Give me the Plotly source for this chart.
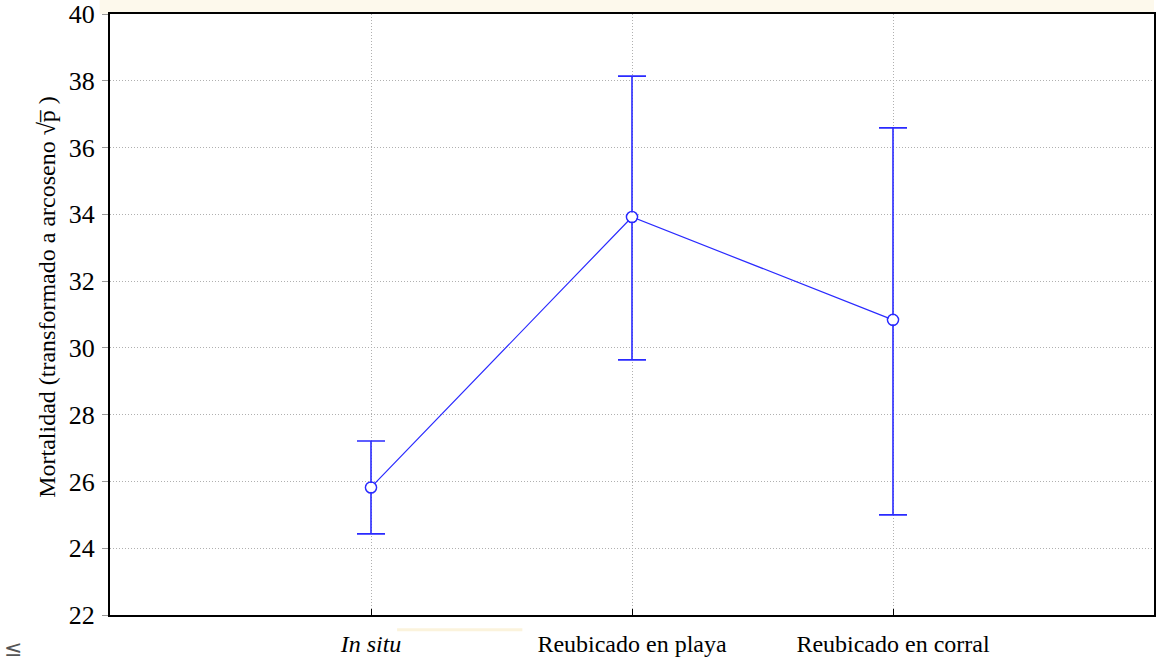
import plotly.graph_objects as go

# Group means and error-bar extents (arcsine-transformed mortality)
categories = ["<i>In situ</i>", "Reubicado en playa", "Reubicado en corral"]
means = [25.82, 33.92, 30.84]
err_plus = [1.39, 4.22, 5.75]
err_minus = [1.39, 4.28, 5.84]
y_ticks = [22, 24, 26, 28, 30, 32, 34, 36, 38, 40]
y_title = "Mortalidad (transformado a arcoseno √p\u0305 )"

blue = "#2a2aff"
serif = "Liberation Serif, Times New Roman, serif"

fig = go.Figure()

# white fill under the open circle markers
fig.add_trace(go.Scatter(
    x=[0, 1, 2], y=means, mode="markers",
    marker=dict(symbol="circle", size=9, color="white"),
    showlegend=False, hoverinfo="skip",
))
fig.add_trace(go.Scatter(
    x=[0, 1, 2],
    y=means,
    mode="lines+markers",
    line=dict(color=blue, width=1.2),
    marker=dict(symbol="circle-open", size=11, color=blue, line=dict(width=1.6)),
    error_y=dict(type="data", symmetric=False, array=err_plus, arrayminus=err_minus,
                 color=blue, thickness=1.6, width=14),
    showlegend=False,
    hoverinfo="skip",
))
fig.data = (fig.data[1], fig.data[0])

fig.update_layout(
    width=1156, height=660,
    margin=dict(l=110, r=0, t=14, b=45),
    paper_bgcolor="white", plot_bgcolor="white",
    font=dict(family=serif, color="black", size=22),
    shapes=[
        dict(type="rect", xref="paper", yref="paper", x0=-0.01, x1=1.0, y0=1.0, y1=1.03,
             fillcolor="#fdf9ec", line=dict(width=0), layer="below"),
        dict(type="rect", xref="paper", yref="paper", x0=0.275, x1=0.395, y0=-0.027, y1=-0.022,
             fillcolor="#fbf3dc", line=dict(width=0), layer="below"),
    ],
    annotations=[
        dict(text=y_title, xref="paper", yref="paper", x=-0.06, y=0.53,
             xanchor="center", yanchor="middle", textangle=-90, showarrow=False,
             font=dict(family=serif, size=24, color="black")),
        dict(text="≤", xref="paper", yref="paper", x=-0.093, y=-0.055,
             xanchor="center", yanchor="middle", showarrow=False,
             font=dict(family="DejaVu Sans", size=22, color="#555555")),
    ],
)

fig.update_xaxes(
    range=[-1, 3],
    tickmode="array", tickvals=[0, 1, 2], ticktext=categories,
    ticks="inside", ticklen=6, tickcolor="black", tickwidth=1,
    showgrid=True, gridcolor="#b0b0b0", griddash="1px,2px", gridwidth=1,
    showline=True, linecolor="black", linewidth=2, mirror=True,
    zeroline=False,
    ticklabelstandoff=6,
    tickfont=dict(family=serif, size=24),
)

fig.update_yaxes(
    range=[22, 40],
    tickmode="array", tickvals=y_ticks,
    ticks="outside", ticklen=6, tickcolor="#999999", tickwidth=1,
    showgrid=True, gridcolor="#b0b0b0", griddash="1px,2px", gridwidth=1,
    showline=True, linecolor="black", linewidth=2, mirror=True,
    zeroline=False,
    ticklabelstandoff=2,
    tickfont=dict(family=serif, size=26),
)

fig.write_html("out.html")
